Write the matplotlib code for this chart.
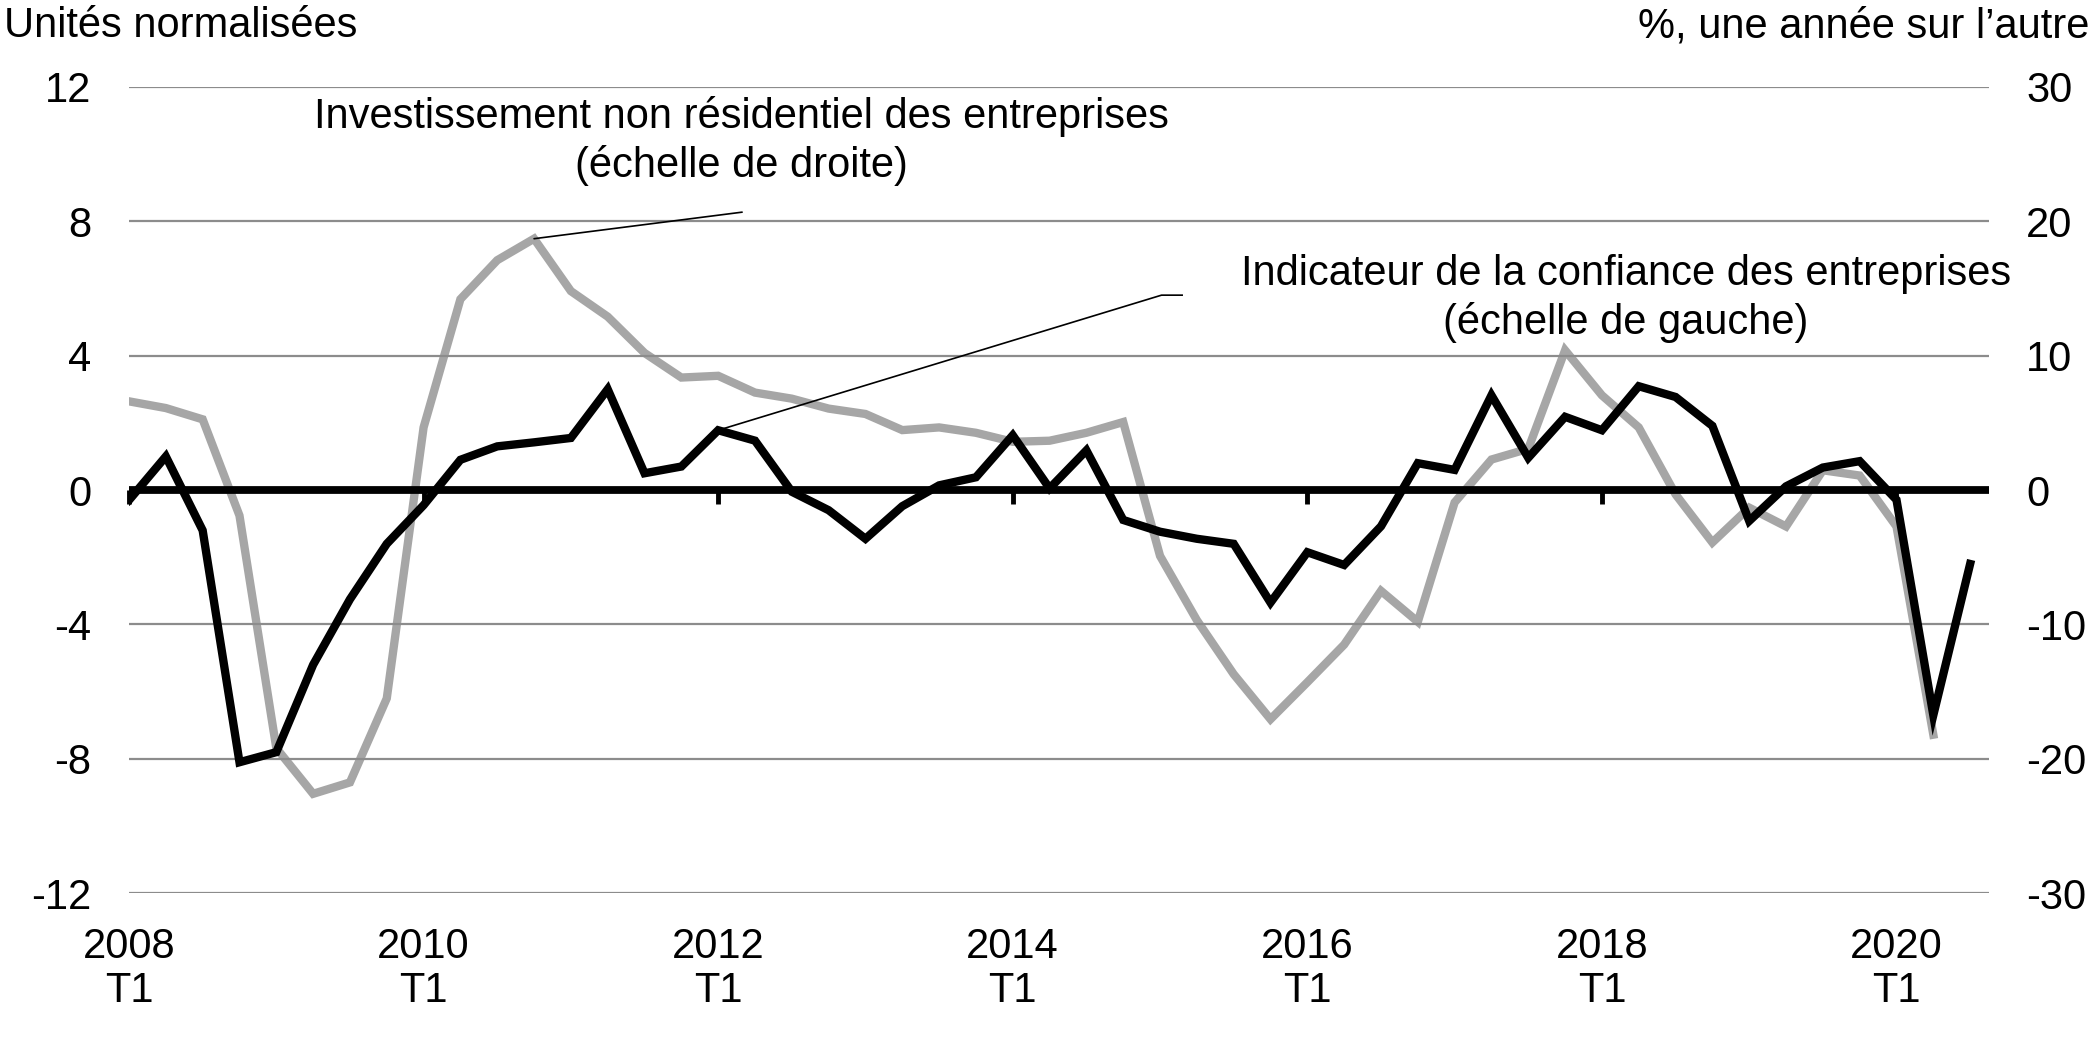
import numpy as np
import matplotlib
matplotlib.use("Agg")
import matplotlib.pyplot as plt

plt.rcParams['font.family'] = ['Liberation Sans', 'DejaVu Sans']

# quarterly data, 2008 T1 to 2020 T3
quarters = [f"{y}\nT{q}" for y in range(2008, 2021) for q in range(1, 5)][:51]

# business confidence indicator (standardised units, left scale)
confidence = [-0.3, 1.0, -1.2, -8.1, -7.8, -5.2, -3.25, -1.6, -0.45, 0.9,
              1.3, 1.42, 1.55, 3.0, 0.5, 0.7, 1.78, 1.47, -0.05, -0.6,
              -1.45, -0.48, 0.14, 0.38, 1.63, 0.05, 1.18, -0.89, -1.24, -1.45,
              -1.6, -3.35, -1.85, -2.23, -1.08, 0.8, 0.6, 2.82, 0.96, 2.18,
              1.78, 3.09, 2.77, 1.91, -0.92, 0.11, 0.67, 0.86, -0.29, -6.7,
              -2.2]

# non-residential business investment (% y/y, right scale), to 2020 T2
investment = [6.6, 6.1, 5.26, -1.9, -19.2, -22.6, -21.75, -15.5, 4.66, 14.2,
              17.1, 18.7, 14.8, 12.9, 10.2, 8.37, 8.5, 7.25, 6.8, 6.06,
              5.66, 4.46, 4.66, 4.26, 3.59, 3.67, 4.26, 5.06, -4.9, -9.68,
              -13.7, -17.05, -14.3, -11.5, -7.5, -9.8, -0.92, 2.27, 3.07, 10.4,
              7.05, 4.66, -0.32, -3.9, -1.31, -2.71, 1.47, 1.08, -2.71, -18.2]

left_ticks = [-12, -8, -4, 0, 4, 8, 12]
right_ticks = [-30, -20, -10, 0, 10, 20, 30]

FS = 30

fig = plt.figure(figsize=(20.91, 10.46), dpi=100)
ax = fig.add_axes([0.0617, 0.146, 0.8893, 0.771])
ax2 = ax.twinx()

x_conf = np.arange(len(confidence))
x_inv = np.arange(len(investment))

ax.set_ylim(-12, 12)
ax.set_yticks(left_ticks)
ax.set_yticklabels([str(t) for t in left_ticks])
ax2.set_ylim(-30, 30)
ax2.set_yticks(right_ticks)
ax2.set_yticklabels([str(t) for t in right_ticks])
ax.set_xlim(0, 50.5)

# grid
for t in left_ticks:
    ax.axhline(t, color='#8c8c8c', lw=1.6, zorder=0)
ax.axhline(0, color='black', lw=5.6, zorder=1)

ax.plot(x_conf, confidence, color='black', lw=6, zorder=3,
        solid_joinstyle='miter')
ax2.plot(x_inv, investment, color='#a6a6a6', lw=6, zorder=3,
         solid_joinstyle='miter')
ax.set_zorder(ax2.get_zorder() + 1)
ax.patch.set_visible(False)

# x ticks: labels at bottom, tick marks on the zero line
xt = np.arange(0, 51, 8)
ax.set_xticks(xt)
ax.set_xticklabels([quarters[i] for i in xt], fontsize=FS, linespacing=1.15)
ax.tick_params(axis='x', length=0, pad=24)
sec = ax.secondary_xaxis(0.5)
sec.set_xticks(xt)
sec.set_xticklabels([])
sec.tick_params(axis='x', direction='in', length=10, width=3.5, color='black')
for s in sec.spines.values():
    s.set_visible(False)

ax.tick_params(axis='y', length=0, pad=27, labelsize=FS)
ax2.tick_params(axis='y', length=0, pad=27, labelsize=FS)
for a in (ax, ax2):
    for s in a.spines.values():
        s.set_visible(False)

# annotations
ax.text(16.63, 10.4, "Investissement non résidentiel des entreprises\n(échelle de droite)",
        ha='center', va='center', fontsize=FS, linespacing=1.25)
ax.annotate("", xy=(11, investment[11] * 12 / 30), xytext=(16.65, 8.27),
            arrowprops=dict(arrowstyle='-', color='black', lw=1.2,
                            shrinkA=0, shrinkB=0))
ax.text(40.65, 5.7, "Indicateur de la confiance des entreprises\n(échelle de gauche)",
        ha='center', va='center', fontsize=FS, linespacing=1.25)
ax.plot([16, 28.04, 28.6], [confidence[16], 5.8, 5.8], color='black', lw=1.2,
        zorder=4)

fig.text(0.002, 0.975, "Unités normalisées", ha='left', va='center', fontsize=FS)
fig.text(0.999, 0.975, "%, une année sur l’autre", ha='right', va='center', fontsize=FS)

fig.savefig("out.png", dpi=100)
